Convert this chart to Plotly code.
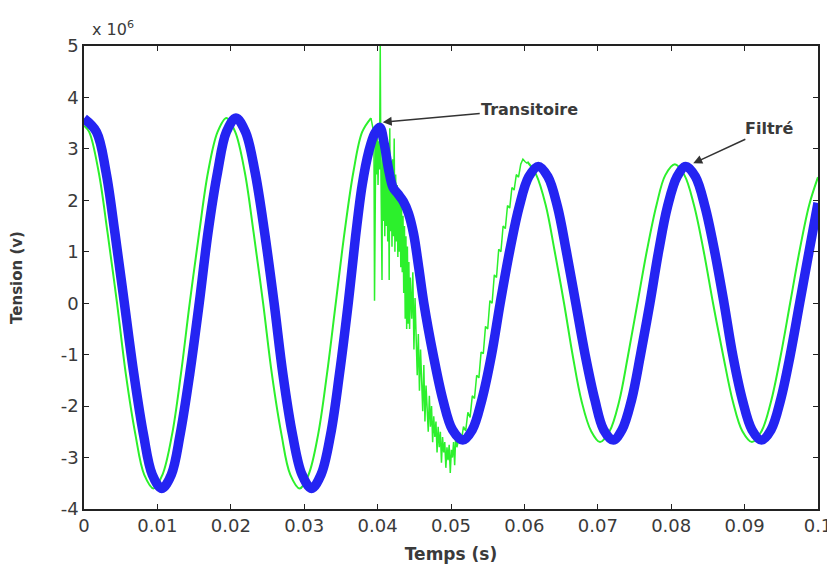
import plotly.graph_objects as go

# ---- data (tension in units of 1e6 V) ----
# Filtered signal (blue, thick)
blue_t = [0.0000, 0.0017, 0.0030, 0.0042, 0.0055, 0.0068, 0.0081, 0.0093, 0.0106,
          0.0119, 0.0131, 0.0144, 0.0157, 0.0169, 0.0182, 0.0194, 0.0207,
          0.0220, 0.0233, 0.0246, 0.0259, 0.0271, 0.0284, 0.0297, 0.0310,
          0.0323, 0.0336, 0.0348, 0.0360, 0.0370, 0.0379, 0.0388, 0.0396, 0.0403,
          0.0409, 0.0415, 0.0421, 0.0428, 0.0435, 0.0442, 0.0449, 0.0456, 0.0463,
          0.0476, 0.0489, 0.0502, 0.0516,
          0.0529, 0.0542, 0.0555, 0.0567, 0.0580, 0.0593, 0.0606, 0.0619,
          0.0632, 0.0645, 0.0657, 0.0670, 0.0683, 0.0696, 0.0708, 0.0721,
          0.0733, 0.0746, 0.0758, 0.0771, 0.0783, 0.0795, 0.0808, 0.0820,
          0.0833, 0.0846, 0.0859, 0.0872, 0.0884, 0.0897, 0.0910, 0.0923,
          0.0936, 0.0949, 0.0962, 0.0975, 0.0988, 0.1000]
blue_v = [3.59, 3.33, 2.55, 1.38, 0.00, -1.38, -2.55, -3.33, -3.60,
          -3.33, -2.55, -1.38, 0.00, 1.38, 2.55, 3.33, 3.60,
          3.33, 2.55, 1.38, 0.00, -1.38, -2.55, -3.33, -3.60,
          -3.33, -2.55, -1.38, 0.00, 1.30, 2.30, 2.95, 3.30, 3.42,
          3.10, 2.60, 2.25, 2.12, 1.98, 1.75, 1.35, 0.70, 0.00,
          -1.02, -1.88, -2.46, -2.66,
          -2.46, -1.88, -1.02, 0.00, 1.02, 1.88, 2.46, 2.66,
          2.46, 1.88, 1.02, 0.00, -1.02, -1.88, -2.46, -2.66,
          -2.46, -1.88, -1.02, 0.00, 1.02, 1.88, 2.46, 2.66,
          2.46, 1.88, 1.02, 0.00, -1.02, -1.88, -2.46, -2.66,
          -2.46, -1.88, -1.02, 0.00, 1.02, 1.95]

# Raw signal (green, thin) - smooth portions (gap during the transient)
green_t = [0.0000, 0.0007, 0.0020, 0.0032, 0.0045, 0.0057, 0.0070, 0.0082, 0.0095,
           0.0107, 0.0120, 0.0132, 0.0144, 0.0157, 0.0169, 0.0182, 0.0194,
           0.0206, 0.0219, 0.0231, 0.0244, 0.0256, 0.0269, 0.0281, 0.0294,
           0.0306, 0.0319, 0.0331, 0.0343, 0.0355, 0.0367, 0.0379, 0.0391, None,
           0.0604, 0.0616, 0.0629, 0.0641, 0.0654, 0.0666, 0.0678, 0.0691, 0.0703,
           0.0716, 0.0729, 0.0741, 0.0754, 0.0767, 0.0780, 0.0792, 0.0805,
           0.0818, 0.0831, 0.0844, 0.0857, 0.0871, 0.0884, 0.0897, 0.0910,
           0.0923, 0.0936, 0.0949, 0.0962, 0.0975, 0.0988, 0.1000]
green_v = [3.45, 3.33, 2.55, 1.38, 0.00, -1.38, -2.55, -3.33, -3.60,
           -3.33, -2.55, -1.38, 0.00, 1.38, 2.55, 3.33, 3.60,
           3.33, 2.55, 1.38, 0.00, -1.38, -2.55, -3.33, -3.60,
           -3.33, -2.55, -1.38, 0.00, 1.38, 2.55, 3.33, 3.60, None,
           2.75, 2.50, 1.91, 1.03, 0.00, -1.03, -1.91, -2.49, -2.70,
           -2.49, -1.91, -1.03, 0.00, 1.03, 1.91, 2.49, 2.70,
           2.49, 1.91, 1.03, 0.00, -1.03, -1.91, -2.49, -2.70,
           -2.49, -1.91, -1.03, 0.00, 1.03, 1.91, 2.45]

# Raw signal (green) - noisy transient portion
noise_t = [0.03910, 0.03925, 0.03940, 0.03950, 0.03958, 0.03966, 0.03976, 0.03986, 0.03996, 0.04006,
           0.04016, 0.04026, 0.04036, 0.04044, 0.04052, 0.04060, 0.04068, 0.04078, 0.04088, 0.04098,
           0.04108, 0.04118, 0.04128, 0.04138, 0.04148, 0.04158, 0.04166, 0.04176, 0.04186, 0.04196,
           0.04206, 0.04216, 0.04226, 0.04236, 0.04246, 0.04256, 0.04266, 0.04276, 0.04286, 0.04296,
           0.04306, 0.04316, 0.04326, 0.04336, 0.04346, 0.04356, 0.04366, 0.04376, 0.04386, 0.04396,
           0.04406, 0.04416, 0.04426, 0.04436, 0.04446,
           0.04465, 0.04480, 0.04495, 0.04510, 0.04525, 0.04540, 0.04555, 0.04570, 0.04585, 0.04600,
           0.04615, 0.04630, 0.04645, 0.04660, 0.04675, 0.04690, 0.04705, 0.04720, 0.04735, 0.04750,
           0.04765, 0.04780, 0.04795, 0.04810, 0.04825, 0.04840, 0.04855, 0.04870, 0.04885, 0.04900,
           0.04915, 0.04930, 0.04945, 0.04960, 0.04975, 0.04990, 0.05005, 0.05020, 0.05035, 0.05050,
           0.05065, 0.05080, 0.05110, 0.05140, 0.05170, 0.05200, 0.05230, 0.05260, 0.05290, 0.05320,
           0.05350, 0.05380, 0.05410, 0.05440, 0.05470, 0.05500, 0.05530, 0.05560, 0.05590, 0.05620,
           0.05650, 0.05680, 0.05710, 0.05740, 0.05770, 0.05800, 0.05830, 0.05860, 0.05890, 0.05920,
           0.05950, 0.05980, 0.06010, 0.06040]
noise_v = [3.60, 3.50, 3.40, 3.30, 0.05, 3.25, 3.40, 2.50, 3.30, 2.30,
           3.15, 2.60, 5.00, 2.80, 1.80, 0.45, 3.20, 1.60, 3.30, 1.30,
           2.90, 1.50, 3.10, 1.20, 2.70, 0.45, 3.40, 1.40, 2.60, 1.10,
           2.80, 1.30, 3.20, 1.00, 2.50, 1.20, 2.30, 0.90, 2.20, 1.00,
           2.10, 0.70, 1.90, 0.60, 1.70, 0.20, 1.50, -0.30, 1.30, -0.50,
           1.10, -0.40, 0.80, -0.50, 0.50,
           -0.30, 0.60, -0.90, 0.10, -0.50, -1.40, -0.60, -1.70, -0.90, -1.50,
           -2.10, -1.20, -2.30, -1.60, -2.00, -2.50, -1.80, -2.40, -2.00, -2.70,
           -2.20, -2.60, -2.30, -2.90, -2.40, -2.80, -2.50, -3.10, -2.60, -2.90,
           -2.70, -3.20, -2.80, -3.05, -2.75, -3.30, -2.85, -3.00, -2.70, -3.15,
           -2.55, -2.80, -2.62, -2.68, -2.40, -2.48, -2.12, -2.22, -1.80, -1.85,
           -1.40, -1.45, -0.95, -0.98, -0.45, -0.50, 0.05, 0.00, 0.55, 0.50,
           1.05, 1.00, 1.50, 1.45, 1.90, 1.85, 2.25, 2.20, 2.50, 2.45,
           2.70, 2.80, 2.75, 2.72]

x_ticks = [0, 0.01, 0.02, 0.03, 0.04, 0.05, 0.06, 0.07, 0.08, 0.09, 0.1]
x_tick_labels = ["0", "0.01", "0.02", "0.03", "0.04", "0.05", "0.06", "0.07", "0.08", "0.09", "0.1"]
y_ticks = [-4, -3, -2, -1, 0, 1, 2, 3, 4, 5]
y_tick_labels = ["-4", "-3", "-2", "-1", "0", "1", "2", "3", "4", "5"]

GREEN = "#2CF02C"
BLUE = "#2424F2"
TXT = "#3a3a3a"
FONT = "DejaVu Sans"

fig = go.Figure()
fig.add_trace(go.Scatter(x=green_t, y=green_v, mode="lines",
                         line=dict(color=GREEN, width=2, shape="spline"),
                         connectgaps=False, showlegend=False, hoverinfo="skip"))
fig.add_trace(go.Scatter(x=noise_t, y=noise_v, mode="lines",
                         line=dict(color=GREEN, width=1.5),
                         showlegend=False, hoverinfo="skip"))
fig.add_trace(go.Scatter(x=blue_t, y=blue_v, mode="lines",
                         line=dict(color=BLUE, width=9.5, shape="spline"),
                         showlegend=False, hoverinfo="skip"))

axis_common = dict(showgrid=False, zeroline=False, showline=True, linecolor="#222222",
                   linewidth=1.5, mirror="ticks", ticks="inside", ticklen=5,
                   tickcolor="#222222", tickwidth=1.2,
                   tickfont=dict(family=FONT, size=18, color=TXT))

fig.update_xaxes(range=[0, 0.1], tickvals=x_ticks, ticktext=x_tick_labels,
                 ticklabeloverflow="allow",
                 title=dict(text="Temps (s)", standoff=13,
                            font=dict(family=FONT, size=17, color=TXT, weight="bold")),
                 automargin=False, **axis_common)
fig.update_yaxes(range=[-4, 5], tickvals=y_ticks, ticktext=y_tick_labels,
                 title=dict(text="Tension (v)", standoff=34,
                            font=dict(family=FONT, size=15, color=TXT, weight="bold")),
                 automargin=False, **axis_common)

fig.add_annotation(x=0.0407, y=3.52, xref="x", yref="y", ax=147, ay=-13,
                   text="Transitoire", showarrow=True, arrowhead=2, arrowsize=1.2,
                   arrowwidth=1.5, arrowcolor="#333333",
                   font=dict(family=FONT, size=16, color=TXT, weight="bold"))
fig.add_annotation(x=0.0830, y=2.72, xref="x", yref="y", ax=76, ay=-35,
                   text="Filtré", showarrow=True, arrowhead=2, arrowsize=1.2,
                   arrowwidth=1.5, arrowcolor="#333333",
                   font=dict(family=FONT, size=16, color=TXT, weight="bold"))
fig.add_annotation(x=(90 - 84) / (827 - 84 - 9), y=1 + (46 - 29) / (570 - 46 - 61),
                   xref="paper", yref="paper", text="x 10<sup>6</sup>",
                   showarrow=False, xanchor="left", yanchor="middle",
                   font=dict(family=FONT, size=16, color=TXT))

fig.update_layout(width=827, height=570, margin=dict(l=84, r=9, t=46, b=61),
                  paper_bgcolor="white", plot_bgcolor="white")

fig.write_html("out.html")
